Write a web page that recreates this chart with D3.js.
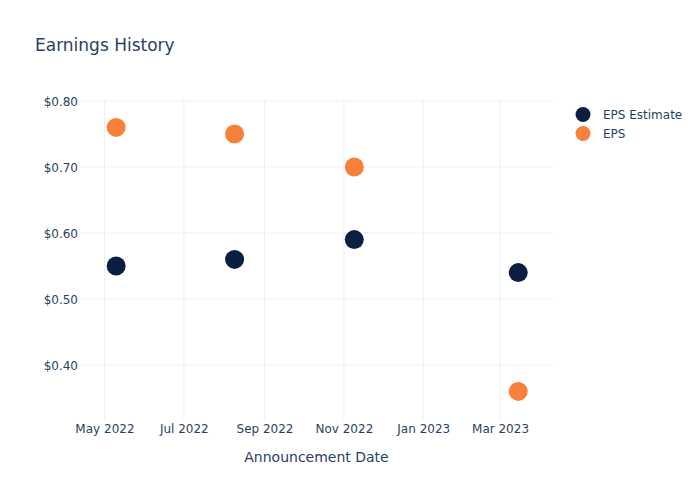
<!DOCTYPE html>
<html><head><meta charset="utf-8">
<script src="https://cdn.jsdelivr.net/npm/d3@7"></script>
<style>body{margin:0;background:#fff}svg{font-family:"DejaVu Sans",sans-serif}</style>
</head><body><div id="chart"></div>
<script>
const dates = ["2022-05-10","2022-08-09","2022-11-09","2023-03-15"];
const epsEstimate = [0.55, 0.56, 0.59, 0.54];
const eps = [0.76, 0.75, 0.70, 0.36];
const yTicks = [0.40, 0.50, 0.60, 0.70, 0.80];
const xTickDates = ["2022-05-01","2022-07-01","2022-09-01","2022-11-01","2023-01-01","2023-03-01"];
const seriesNames = ["EPS Estimate","EPS"];
const colors = ["#0b1f42","#f7803a"];

const W=700,H=500, L=80, R=553, T=100, B=420;
const parse = d3.utcParse("%Y-%m-%d");
const svg = d3.select("#chart").append("svg").attr("width",W).attr("height",H);
const x = d3.scaleUtc().domain([Date.UTC(2022,3,12,5), Date.UTC(2023,3,10,17)]).range([L,R]);
const y = d3.scaleLinear().domain([0.31667,0.8015]).range([B,T]);
const txt="#2a3f5f", grid="#ebf0f8", font="'DejaVu Sans',sans-serif";

svg.append("g").selectAll("line").data(xTickDates.map(parse)).join("line")
  .attr("x1",d=>x(d)).attr("x2",d=>x(d)).attr("y1",T).attr("y2",B)
  .attr("stroke",grid).attr("stroke-width",1);
svg.append("g").selectAll("line").data(yTicks).join("line")
  .attr("x1",L).attr("x2",R).attr("y1",d=>y(d)).attr("y2",d=>y(d))
  .attr("stroke",grid).attr("stroke-width",1);

const xAxis = svg.append("g").attr("transform",`translate(0,${B})`)
  .call(d3.axisBottom(x).tickValues(xTickDates.map(parse)).tickFormat(d3.utcFormat("%b %Y")).tickSize(0).tickPadding(4));
const yAxis = svg.append("g").attr("transform",`translate(${L},0)`)
  .call(d3.axisLeft(y).tickValues(yTicks).tickFormat(d=>"$"+d3.format(".2f")(d)).tickSize(0).tickPadding(2));
[xAxis,yAxis].forEach(g=>{g.select(".domain").remove();
  g.selectAll("text").attr("fill",txt).attr("font-size",12).attr("font-family",font);});
xAxis.selectAll("text").attr("dy",0).attr("y",13);
yAxis.selectAll("text").attr("dy","0.35em");

const series=[epsEstimate,eps];
series.forEach((vals,i)=>{
  svg.append("g").selectAll("circle").data(vals).join("circle")
    .attr("cx",(d,j)=>x(parse(dates[j]))).attr("cy",d=>y(d)).attr("r",9.5)
    .attr("fill",colors[i]);
});

svg.append("text").attr("x",35).attr("y",51).attr("fill",txt).attr("font-size",17).attr("font-family",font).text("Earnings History");
svg.append("text").attr("x",(L+R)/2).attr("y",462).attr("text-anchor","middle").attr("fill",txt).attr("font-size",14).attr("font-family",font).text("Announcement Date");

const lg = svg.append("g");
seriesNames.forEach((n,i)=>{
  lg.append("circle").attr("cx",583).attr("cy",114.5+i*19).attr("r",7.5).attr("fill",colors[i]);
  lg.append("text").attr("x",603).attr("y",114.5+i*19).attr("dy","0.35em").attr("fill",txt).attr("font-size",12).attr("font-family",font).text(n);
});
</script></body></html>
